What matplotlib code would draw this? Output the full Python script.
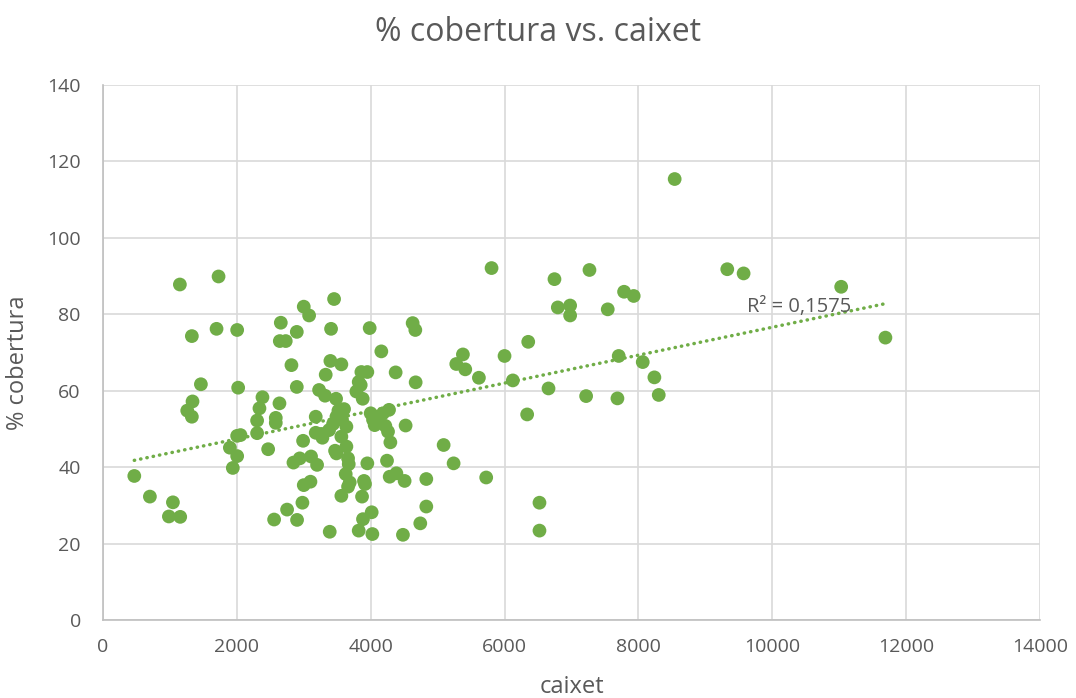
import numpy as np
import matplotlib.pyplot as plt

# caixet (x) vs % cobertura (y)
caixet = [468, 701, 1045, 985, 1154, 1940, 2005, 1896, 2005, 2055,
          1149, 1727, 1328, 1697, 2005, 1463, 2020, 1338, 1259, 1328,
          2303, 2303, 2338, 2383, 2582, 2582, 2637, 2468,
          2846, 2940, 3109, 3199, 3000, 3100, 2980, 2751, 2557, 2900,
          3388, 3179, 3179, 3279, 2990, 3229, 3318, 2896, 2816, 3398,
          3562, 3328, 2642, 2731, 2657, 2896, 3408, 3000, 3080, 3453,
          3483, 3518, 3602, 3488, 3572, 3637, 3438, 3378, 3264, 3562,
          3637, 3468, 3488, 3662, 3672, 3627, 3687, 3662, 3562,
          3821, 3851, 3786, 3881, 3861, 3950, 3985, 3950, 3900, 3915,
          3871, 3821, 3885, 4015, 4025, 4000, 4085, 4060, 4035,
          4184, 4274, 4219, 4259, 4294, 4244, 4284, 4384, 4507, 4482,
          4522, 4373, 4159, 4627, 4667, 4672, 4741, 4831, 4831,
          5090, 5239, 5279, 5378, 5413, 5617, 5726, 5806, 6000, 6124,
          6338, 6354, 6522, 6522, 6657, 6746, 6796, 6980, 6980, 7219,
          7269, 7542, 7687, 7706, 7786, 7930, 8065, 8239, 8304, 8542,
          9328, 9572, 11030, 11691]
cobertura = [37.7, 32.3, 30.8, 27.1, 27.0, 39.8, 42.9, 45.1, 48.2, 48.4,
             87.8, 89.9, 74.3, 76.2, 75.9, 61.7, 60.8, 57.2, 54.8, 53.2,
             48.9, 52.2, 55.4, 58.3, 52.9, 51.6, 56.7, 44.7,
             41.2, 42.3, 42.8, 40.6, 35.3, 36.2, 30.7, 28.9, 26.3, 26.2,
             23.1, 53.2, 49.0, 47.7, 46.9, 60.2, 58.7, 61.0, 66.7, 67.8,
             66.9, 64.2, 73.0, 73.0, 77.8, 75.4, 76.2, 82.0, 79.7, 84.0,
             57.9, 54.8, 55.2, 53.2, 52.4, 50.6, 51.3, 49.7, 48.7, 48.0,
             45.4, 44.3, 43.6, 42.3, 40.8, 38.2, 36.0, 34.9, 32.5,
             62.3, 61.5, 59.8, 57.9, 64.9, 64.9, 76.4, 41.0, 36.4, 35.6,
             32.3, 23.4, 26.4, 28.2, 22.5, 54.1, 53.2, 51.0, 52.4,
             54.1, 55.0, 50.8, 49.3, 46.5, 41.7, 37.5, 38.4, 36.4, 22.3,
             50.9, 64.8, 70.3, 77.7, 75.9, 62.2, 25.3, 36.9, 29.7,
             45.8, 41.0, 67.0, 69.5, 65.6, 63.4, 37.3, 92.1, 69.1, 62.7,
             53.8, 72.8, 30.7, 23.4, 60.6, 89.2, 81.8, 82.3, 79.7, 58.6,
             91.6, 81.3, 58.0, 69.1, 85.9, 84.8, 67.5, 63.5, 58.9, 115.4,
             91.8, 90.7, 87.2, 73.9]
r2_label = 'R² = 0,1575'

green = '#70ad47'
grey = '#595959'
plt.rcParams['font.family'] = ['Open Sans', 'DejaVu Sans']

fig = plt.figure(figsize=(10.76, 6.98), dpi=100)
ax = fig.add_axes([0.0957, 0.1117, 0.8708, 0.7665])

x = np.array(caixet, dtype=float)
y = np.array(cobertura, dtype=float)
ax.scatter(x, y, s=98, color=green, edgecolors='none', zorder=3)

# linear trendline
k, b = np.polyfit(x, y, 1)
xt = np.array([x.min(), x.max()])
ax.plot(xt, k * xt + b, color=green, lw=2.5, linestyle=(0, (0.1, 1.75)),
        dash_capstyle='round', zorder=2)
ax.text(9630, 81.9, r2_label, color=grey, fontsize=14.5, va='center', ha='left', zorder=4)

ax.set_xlim(0, 14000)
ax.set_ylim(0, 140)
ax.set_xticks(np.arange(0, 14001, 2000))
ax.set_yticks(np.arange(0, 141, 20))
ax.grid(True, color='#d9d9d9', lw=1.2)
ax.set_axisbelow(True)
for side in ['top', 'right']:
    ax.spines[side].set_visible(False)
for side in ['left', 'bottom']:
    ax.spines[side].set_color('#bfbfbf')
    ax.spines[side].set_linewidth(1.2)
ax.tick_params(length=0, labelsize=14, colors=grey)
ax.tick_params(axis='x', pad=13)
ax.tick_params(axis='y', pad=16)

ax.set_xlabel('caixet', fontsize=17, color=grey)
ax.set_ylabel('% cobertura', fontsize=17, color=grey)
ax.xaxis.set_label_coords(0.5, -0.103)
ax.yaxis.set_label_coords(-0.078, 0.48)
fig.text(0.5, 0.954, '% cobertura vs. caixet', fontsize=23, color=grey,
         ha='center', va='center')

fig.savefig('out.png', dpi=100)
